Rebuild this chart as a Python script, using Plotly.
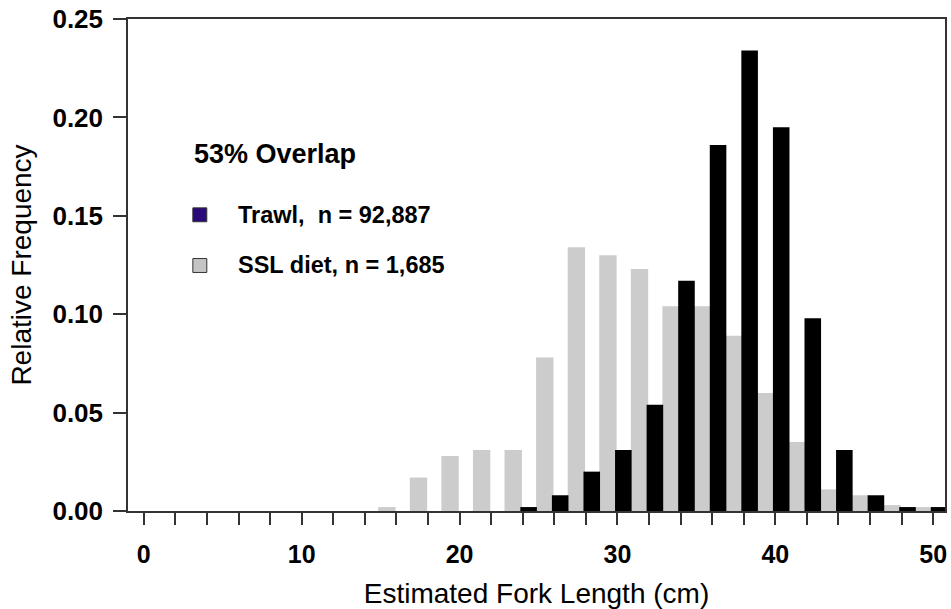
import plotly.graph_objects as go

# Data (bin label = upper edge of 2-cm fork length bins)
bins = [16, 18, 20, 22, 24, 26, 28, 30, 32, 34, 36, 38, 40, 42, 44, 46, 48, 50]
ssl_diet = [0.002, 0.017, 0.028, 0.031, 0.031, 0.078, 0.134, 0.130, 0.123,
            0.104, 0.104, 0.089, 0.060, 0.035, 0.011, 0.008, 0.003, 0.002]
trawl = [0.0, 0.0, 0.0, 0.0, 0.002, 0.008, 0.020, 0.031, 0.054,
         0.117, 0.186, 0.234, 0.195, 0.098, 0.031, 0.008, 0.002, 0.002]

overlap_text = "53% Overlap"
trawl_label = "Trawl,&nbsp;&nbsp;n = 92,887"
ssl_label = "SSL diet, n = 1,685"

FONT = "Liberation Sans, Arial, sans-serif"
AX = "#333333"

fig = go.Figure()
fig.add_trace(go.Bar(x=bins, y=ssl_diet, name="SSL diet", marker=dict(color="#cccccc", line=dict(width=0)),
                     width=1.1, offset=-1.15, showlegend=False))
fig.add_trace(go.Bar(x=bins, y=trawl, name="Trawl", marker=dict(color="#000000", line=dict(width=0)),
                     width=1.05, offset=-0.15, showlegend=False))

fig.update_layout(
    width=951, height=609,
    margin=dict(l=128, r=4, t=17, b=97),
    paper_bgcolor="white", plot_bgcolor="white",
    barmode="overlay",
    showlegend=False,
    font=dict(family=FONT, color="black"),
)

fig.update_xaxes(
    range=[-1.0, 50.75], tickmode="linear", tick0=0, dtick=10,
    ticks="outside", ticklen=12, tickwidth=1.5, tickcolor=AX,
    minor=dict(dtick=2, tick0=0, ticks="outside", ticklen=12, tickwidth=1.5, tickcolor=AX),
    showline=True, linecolor=AX, linewidth=1.5, mirror=True,
    showgrid=False, zeroline=False,
    tickfont=dict(family=FONT, size=25, weight="bold", color="black"),
    ticklabelstandoff=8,
    title=dict(text="Estimated Fork Length (cm)", font=dict(family=FONT, size=28, color="black"), standoff=18),
)
fig.update_yaxes(
    range=[0, 0.25], tickmode="linear", tick0=0, dtick=0.05, tickformat=".2f",
    ticks="outside", ticklen=13, tickwidth=1.5, tickcolor=AX,
    showline=True, linecolor=AX, linewidth=1.5, mirror=True,
    showgrid=False, zeroline=False,
    tickfont=dict(family=FONT, size=26, weight="bold", color="black"),
    ticklabelstandoff=5,
    title=dict(text="Relative Frequency", font=dict(family=FONT, size=28, color="black"), standoff=13),
)

# Legend block (paper coordinates)
def px_x(px):
    return (px - 128) / (951 - 128 - 4)

def px_y(py):
    return 1 - (py - 17) / (609 - 17 - 97)

fig.add_annotation(x=px_x(192), y=px_y(153), xref="paper", yref="paper", xanchor="left", yanchor="middle",
                   text=overlap_text, showarrow=False,
                   font=dict(family=FONT, size=27, weight="bold", color="black"))
for label, ypx, fill in [(trawl_label, 214, "#2a0a7a"), (ssl_label, 265, "#c4c4c4")]:
    fig.add_shape(type="rect", xref="paper", yref="paper",
                  x0=px_x(193), x1=px_x(207), y0=px_y(ypx + 7), y1=px_y(ypx - 7),
                  fillcolor=fill, line=dict(color="#333333", width=1))
    fig.add_annotation(x=px_x(236), y=px_y(ypx), xref="paper", yref="paper", xanchor="left", yanchor="middle",
                       text=label, showarrow=False,
                       font=dict(family=FONT, size=23.5, weight="bold", color="black"))

fig.write_html("out.html")
